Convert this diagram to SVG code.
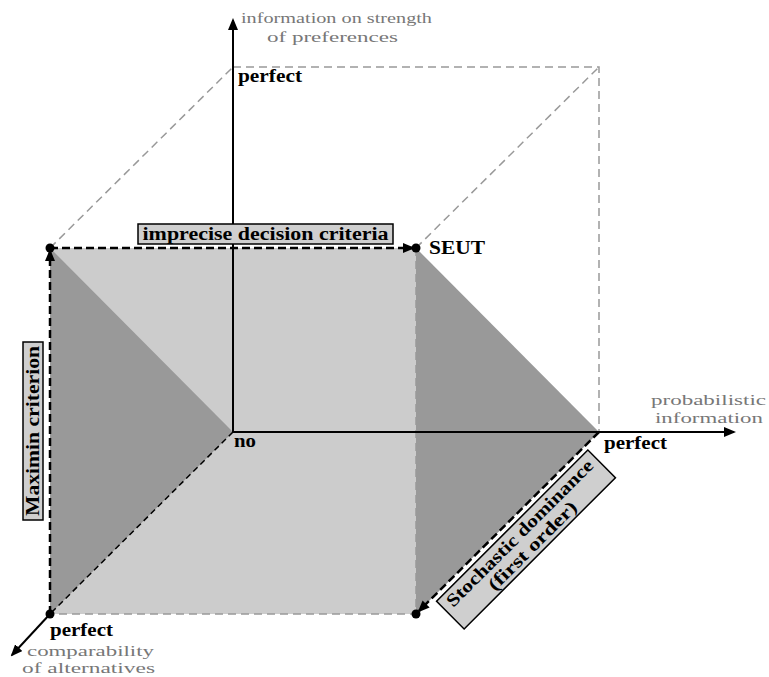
<svg xmlns="http://www.w3.org/2000/svg" width="769" height="677" viewBox="0 0 769 677">
<style>
.lbl{font-family:"Liberation Serif","DejaVu Serif",serif;font-weight:bold;font-size:18px;fill:#000}
.ax{font-family:"Liberation Serif","DejaVu Serif",serif;font-size:15px;fill:#777}
.gd{fill:none;stroke:#999;stroke-width:1.5;stroke-dasharray:8 5}
.bd{fill:none;stroke:#000;stroke-width:2.5;stroke-dasharray:8 4}
.box{fill:#cfcfcf;stroke:#000;stroke-width:1.5}
</style>
<defs>
<marker id="ah" markerWidth="12" markerHeight="10" refX="10" refY="5" orient="auto" markerUnits="userSpaceOnUse"><path d="M0,0 L12,5 L0,10 Z" fill="#000"/></marker>
</defs>
<g id="faces">
<rect x="50" y="248" width="366" height="366" fill="#cccccc"/>
<polygon points="50,248 233,432 50,614" fill="#999999"/>
<polygon points="416,248 599,432 416,614" fill="#999999"/>
</g>
<g id="connectors">
<path class="gd" d="M233,67 H599 V432"/>
<path class="gd" d="M50,248 L233,67"/>
<path class="gd" d="M416,248 L599,67"/>
<path class="gd" d="M416,248 V614 H50"/>
<line x1="233" y1="432" x2="233" y2="20" stroke="#000" stroke-width="2" marker-end="url(#ah)"/>
<line x1="233" y1="432" x2="734" y2="432" stroke="#000" stroke-width="2" marker-end="url(#ah)"/>
<line x1="233" y1="432" x2="50" y2="614" stroke="#000" stroke-width="1.5" stroke-dasharray="6 4"/>
<line x1="50" y1="614" x2="12" y2="655" stroke="#000" stroke-width="2" marker-end="url(#ah)"/>
<line class="bd" x1="50" y1="248" x2="413" y2="248" marker-end="url(#ah)"/>
<line class="bd" x1="50" y1="614" x2="50" y2="251" marker-end="url(#ah)"/>
<line class="bd" x1="599" y1="432" x2="419" y2="611" marker-end="url(#ah)"/>
</g>
<g id="dots">
<circle cx="50" cy="248" r="4.5"/>
<circle cx="416" cy="248" r="4.5"/>
<circle cx="50" cy="614" r="4.5"/>
<circle cx="416" cy="614" r="4.5"/>
</g>
<g id="label-imprecise">
<rect class="box" x="138" y="224" width="255" height="20"/>
<text class="lbl" x="265.5" y="240" text-anchor="middle" textLength="246" lengthAdjust="spacingAndGlyphs">imprecise decision criteria</text>
</g>
<g id="label-maximin" transform="translate(33,431) rotate(-90)">
<rect class="box" x="-89" y="-10" width="178" height="20"/>
<text class="lbl" x="0" y="6" text-anchor="middle" textLength="170" lengthAdjust="spacingAndGlyphs">Maximin criterion</text>
</g>
<g id="label-stochastic" transform="translate(526,539.5) rotate(-45)">
<rect class="box" x="-107" y="-19.5" width="214" height="39"/>
<text class="lbl" x="0" y="-3" text-anchor="middle" textLength="200" lengthAdjust="spacingAndGlyphs">Stochastic dominance</text>
<text class="lbl" x="0" y="15" text-anchor="middle" textLength="118" lengthAdjust="spacingAndGlyphs">(first order)</text>
</g>
<g id="texts">
<text class="lbl" x="238" y="82" textLength="64" lengthAdjust="spacingAndGlyphs">perfect</text>
<text class="lbl" x="429" y="254" textLength="56" lengthAdjust="spacingAndGlyphs">SEUT</text>
<text class="lbl" x="234" y="447" textLength="22" lengthAdjust="spacingAndGlyphs">no</text>
<text class="lbl" x="604" y="449" textLength="63" lengthAdjust="spacingAndGlyphs">perfect</text>
<text class="lbl" x="50" y="636" textLength="63" lengthAdjust="spacingAndGlyphs">perfect</text>
<text class="ax" x="241" y="23" textLength="191" lengthAdjust="spacingAndGlyphs">information on strength</text>
<text class="ax" x="267" y="42" textLength="131" lengthAdjust="spacingAndGlyphs">of preferences</text>
<text class="ax" x="651" y="405" textLength="115" lengthAdjust="spacingAndGlyphs">probabilistic</text>
<text class="ax" x="655" y="423" textLength="108" lengthAdjust="spacingAndGlyphs">information</text>
<text class="ax" x="27" y="656" textLength="127" lengthAdjust="spacingAndGlyphs">comparability</text>
<text class="ax" x="22" y="673" textLength="133" lengthAdjust="spacingAndGlyphs">of alternatives</text>
</g>
</svg>
